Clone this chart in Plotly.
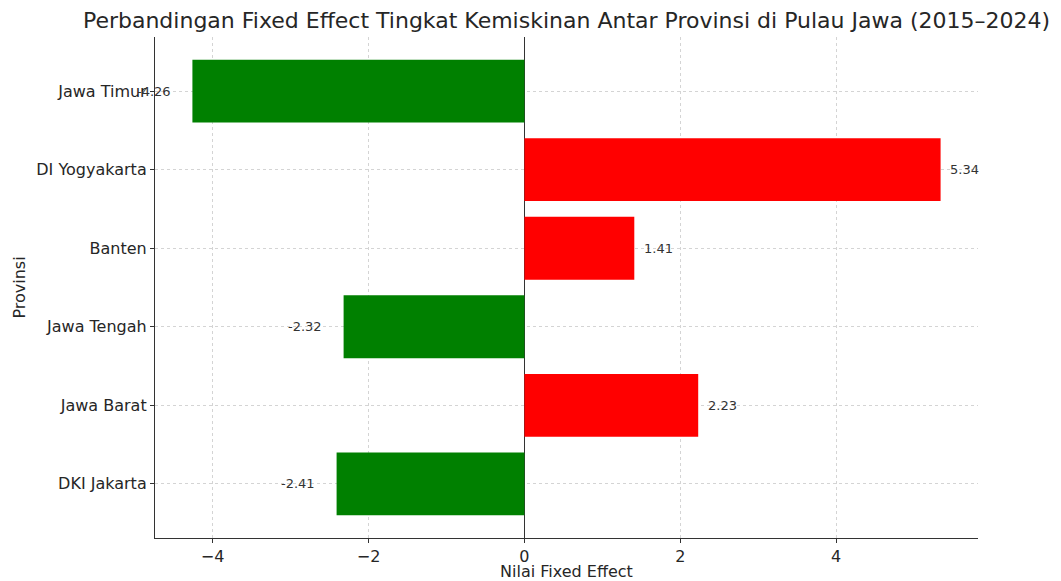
import plotly.graph_objects as go

provinsi = ["DKI Jakarta", "Jawa Barat", "Jawa Tengah", "Banten", "DI Yogyakarta", "Jawa Timur"]
fixed_effect = [-2.41, 2.23, -2.32, 1.41, 5.34, -4.26]
bar_colors = ["red" if v > 0 else "green" for v in fixed_effect]
x_ticks = [-4, -2, 0, 2, 4]
x_tick_text = ["\u22124", "\u22122", "0", "2", "4"]

FONT = "DejaVu Sans"
TXT = "#262626"
W, H = 1053, 573
L, R, T, B = 147, 83, 29, 43
fig = go.Figure()
fig.add_trace(go.Bar(
    x=fixed_effect, y=provinsi, orientation="h",
    marker=dict(color=bar_colors, line=dict(width=0)),
    width=0.8, hoverinfo="skip",
))

for p, v in zip(provinsi, fixed_effect):
    if v > 0:
        fig.add_annotation(x=v + 0.1, y=p, text=f"{v:.2f}", xanchor="left",
                           showarrow=False, font=dict(family=FONT, size=13, color="#333333"))
    else:
        fig.add_annotation(x=v - 0.25, y=p, text=f"{v:.2f}", xanchor="right",
                           showarrow=False, font=dict(family=FONT, size=13, color="#333333"))

fig.update_layout(
    width=W, height=H,
    margin=dict(l=L, r=R, t=T, b=B, autoexpand=False),
    paper_bgcolor="white", plot_bgcolor="white",
    showlegend=False,
    font=dict(family=FONT, color=TXT),
    title=dict(text="Perbandingan Fixed Effect Tingkat Kemiskinan Antar Provinsi di Pulau Jawa (2015\u20132024)",
               x=(L + W - R) / 2 / W, xanchor="center", yref="container", y=1 - 12 / H, yanchor="middle",
               font=dict(family=FONT, size=22, color=TXT)),
    xaxis=dict(range=[-4.74, 5.82], tickvals=x_ticks, ticktext=x_tick_text,
               showgrid=True, gridcolor="#d4d4d4", griddash="3px,3px", gridwidth=0.8,
               zeroline=True, zerolinecolor="#333333", zerolinewidth=1,
               showline=True, linecolor="#333333", linewidth=1.2,
               ticks="outside", ticklen=4, tickcolor="#333333",
               tickfont=dict(family=FONT, size=16, color=TXT),
               title=dict(text="Nilai Fixed Effect", font=dict(family=FONT, size=16, color=TXT), standoff=4),
               automargin=False, layer="above traces", fixedrange=True),
    yaxis=dict(categoryorder="array", categoryarray=provinsi, range=[-0.69, 5.69],
               showgrid=True, gridcolor="#d4d4d4", griddash="3px,3px", gridwidth=0.8,
               showline=True, linecolor="#333333", linewidth=1.2,
               ticks="outside", ticklen=4, tickcolor="#333333",
               tickfont=dict(family=FONT, size=16, color=TXT),
               title=dict(text="Provinsi", font=dict(family=FONT, size=16, color=TXT), standoff=6),
               automargin=False, layer="above traces", fixedrange=True),
)

fig.write_html("out.html")
